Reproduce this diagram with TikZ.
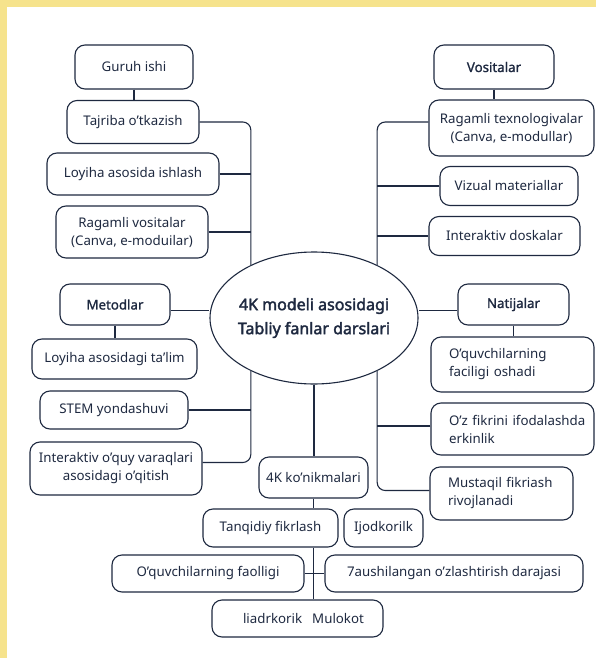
\documentclass[tikz,border=0pt]{standalone}
\usepackage{fontspec}
\setmainfont{Noto Sans}
\newfontfamily\titlefont{Noto Sans}[AutoFakeBold=2.2]
\newfontfamily\headfont{Noto Sans}[AutoFakeBold=1.2]
\usetikzlibrary{shapes.geometric}
\definecolor{ink}{HTML}{1E2940}
\definecolor{frame}{HTML}{F6E38C}

\begin{document}
\begin{tikzpicture}[
        x=1pt, y=-1pt,
        every node/.style={font=\fontsize{13.3}{18}\selectfont, text=ink},
        box/.style={draw=ink, line width=1.1pt, rounded corners=10pt, fill=white, align=center, inner sep=0pt},
        leftbox/.style={box, align=left, inner xsep=18pt},
        head/.style={box, font=\headfont\bfseries\fontsize{13.3}{18}\selectfont},
        link/.style={draw=ink, line width=1.1pt, rounded corners=8pt}
    ]

    % Frame
    \useasboundingbox (0,0) rectangle (596,658);
    \fill[white] (0,0) rectangle (596,658);
    \fill[frame] (0,0) rectangle (596,7);
    \fill[frame] (0,0) rectangle (7,658);

    % Nodes
    \node (center)[ellipse, draw=ink, line width=1.1pt, fill=white, align=center,
        inner xsep=-20pt, inner ysep=0pt, minimum width=208, minimum height=132,
        font=\titlefont\bfseries\fontsize{16}{24}\selectfont] at (314,318)
        {4K modeli asosidagi \\ Tabliy fanlar darslari};

    \node (guruh)[box, minimum width=118, minimum height=44] at (134,67) {Guruh ishi};
    \node (tajriba)[box, minimum width=132, minimum height=43] at (133,122) {Tajriba o'tkazish};
    \node (loyiha)[box, minimum width=172, minimum height=42] at (133,174) {Loyiha asosida ishlash};
    \node (ragv)[box, minimum width=152, minimum height=52] at (132,232)
        {Ragamli vositalar \\ (Canva, e-moduilar)};

    \node (vosita)[head, minimum width=120, minimum height=44] at (494,67) {Vositalar};
    \node (ragt)[box, minimum width=165, minimum height=56] at (511.5,128)
        {Ragamli texnologivalar \\ (Canva, e-modullar)};
    \node (vizual)[box, minimum width=138, minimum height=39] at (509,186) {Vizual materiallar};
    \node (doska)[box, minimum width=151, minimum height=39] at (504.5,236) {Interaktiv doskalar};

    \node (metod)[head, minimum width=110, minimum height=41] at (115,304.5) {Metodlar};
    \node (talim)[box, minimum width=165, minimum height=40] at (114.5,359) {Loyiha asosidagi ta'lim};
    \node (stem)[box, minimum width=148, minimum height=38] at (114,410) {STEM yondashuvi};
    \node (interak)[box, minimum width=172, minimum height=53] at (116,468.5)
        {Interaktiv o'quy varaqlari \\ asosidagi o'qitish};

    \node (natija)[head, minimum width=111, minimum height=41] at (513.5,304.5) {Natijalar};
    \node (faci)[leftbox, text width=127, minimum height=55] at (512.5,364.5)
        {\mbox{O'quvchilarning} \\ \mbox{faciligi oshadi}};
    \node (ozfik)[leftbox, text width=127, minimum height=52] at (512.5,429)
        {\mbox{O'z fikrini ifodalashda} \\ erkinlik};
    \node (must)[leftbox, text width=107, minimum height=53] at (501.5,493.5)
        {\mbox{Mustaqil fikriash} \\ rivojlanadi};

    \node (k4)[box, minimum width=109, minimum height=41] at (313.5,477.5) {4K ko'nikmalari};
    \node (tanq)[box, minimum width=135, minimum height=38] at (270.5,528) {Tanqidiy fikrlash};
    \node (ijod)[box, minimum width=79, minimum height=38] at (383.5,528) {Ijodkorilk};
    \node (faol)[box, minimum width=192, minimum height=37] at (208,573.5) {O'quvchilarning faolligi};
    \node (yaush)[box, minimum width=258, minimum height=37] at (454,573.5)
        {7aushilangan o'zlashtirish darajasi};
    \node (liadr)[box, minimum width=171, minimum height=37] at (297.5,618.5)
        {\hspace{12pt}liadrkorik\hspace{10pt}Mulokot};

    % Edges
    \draw[link] (guruh.south) -- (guruh.south |- tajriba.north);
    \draw[link] (tajriba.east) -| (center.140);
    \draw[link] (loyiha.east) -- (loyiha.east -| center.140);
    \draw[link] (ragv.east) -- (ragv.east -| center.140);

    \draw[link] (vosita.south) -- (vosita.south |- ragt.north);
    \draw[link] ([yshift=6pt]ragt.west) -| (center.40);
    \draw[link] (vizual.west) -- (vizual.west -| center.40);
    \draw[link] (doska.west) -- (doska.west -| center.40);

    \draw[link] ([yshift=-6pt]metod.east) -- ([yshift=-6pt]metod.east -| center.west);
    \draw[link] (metod.south) -- (metod.south |- talim.north);
    \draw[link] (stem.east) -- (stem.east -| center.220);
    \draw[link] ([yshift=6pt]interak.east) -| (center.220);

    \draw[link] ([yshift=-6pt]natija.west) -- ([yshift=-6pt]natija.west -| center.east);
    \draw[link] (natija.south) -- (natija.south |- faci.north);
    \draw[link] ([yshift=3pt]ozfik.west) -- ([yshift=3pt]ozfik.west -| center.320);
    \draw[link] ([yshift=3pt]must.west) -| (center.320);

    \draw[link] (center.south) -- (center.south |- k4.north);
    \draw[link] (k4.south) -- (k4.south |- tanq.north);
    \draw[link] (k4.south |- tanq.south) -- (k4.south |- liadr.north);
    \draw[link] (faol.east) -- (yaush.west);

\end{tikzpicture}
\end{document}
